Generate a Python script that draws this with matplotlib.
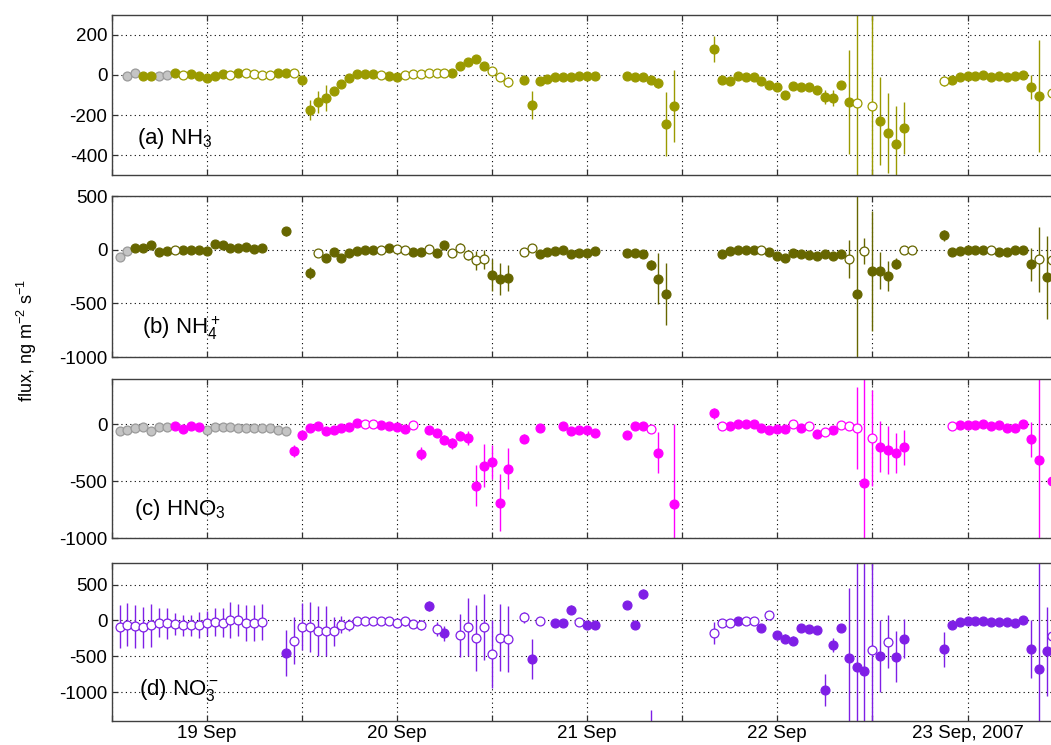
import matplotlib
matplotlib.use('Agg')
import matplotlib.pyplot as plt
import matplotlib.dates as mdates
import matplotlib.ticker as mticker
from datetime import datetime, timedelta

plt.rcParams['font.family'] = ['Liberation Sans', 'DejaVu Sans']
plt.rcParams['mathtext.default'] = 'regular'
plt.rcParams['axes.unicode_minus'] = False

# ---------------- data (hours relative to 19 Sep 2007 00:00) ----------------
# kind: f = filled, o = open, g = grey
hours_a = [-10, -9, -8, -7, -6, -5, -4, -3, -2, -1,
           0, 1, 2, 3, 4, 5, 6, 7, 8, 9, 10, 11, 12, 13, 14, 15, 16, 17, 18, 19,
           20, 21, 22, 23, 24, 25, 26, 27, 28, 29, 30, 31, 32, 33, 34, 35, 36, 37, 38,
           40, 41, 42, 43, 44, 45, 46, 47, 48, 49,
           53, 54, 55, 56, 57, 58, 59,
           64, 65, 66, 67, 68, 69, 70, 71, 72, 73, 74, 75, 76, 77, 78, 79, 80, 81, 82, 84, 85, 86, 87, 88,
           93, 94, 95, 96, 97, 98, 99, 100, 101, 102, 103, 104, 105, 106.7]
flux_a = [-5, 8, -5, -5, -5, 0, 8, 0, 3, -5,
          -15, -5, 5, 0, 10, 10, 3, 0, 0, 12, 10, 12, -27, -175, -133, -115, -78, -44, -17, 7,
          7, 7, 0, -5, -10, 0, 3, 7, 10, 10, 10, 10, 46, 66, 78, 43, 20, -10, -36,
          -26, -150, -32, -22, -10, -10, -8, -5, -5, -5,
          -5, -10, -10, -27, -41, -247, -153,
          131, -24, -31, -5, -10, -10, -31, -51, -61, -99, -54, -61, -61, -75, -110, -116, -48, -136, -140, -153, -231, -289, -345, -265,
          -31, -24, -10, -5, -5, 0, -10, -5, -10, -5, 0, -61, -105, -90]
err_a = [8, 8, 8, 8, 8, 8, 8, 8, 8, 8,
         8, 8, 8, 8, 8, 8, 8, 8, 8, 8, 8, 8, 10, 50, 55, 65, 20, 15, 8, 8,
         8, 8, 8, 8, 8, 8, 8, 8, 8, 8, 8, 8, 8, 8, 8, 8, 10, 15, 25,
         8, 70, 8, 8, 8, 8, 8, 8, 8, 8,
         8, 8, 8, 15, 25, 160, 180,
         65, 8, 8, 8, 8, 8, 8, 8, 8, 20, 8, 8, 8, 20, 35, 40, 8, 260, 700, 700, 220, 200, 190, 130,
         25, 8, 8, 8, 8, 8, 8, 8, 8, 8, 8, 60, 280, 40]
kind_a = ("ggffggfoff" + "fffofooooffoffffffff" + "ffoffoooooofffffooo" + "ffffffffff"
          + "fffffff" + "ffffffffffffffffffo" + "offff" + "o" + "f" * 12 + "o")

hours_b = [-11, -10, -9, -8, -7, -6, -5, -4, -3, -2, -1,
           0, 1, 2, 3, 4, 5, 6, 7, 10,
           13, 14, 15, 16, 17, 18, 19, 20, 21, 22, 23, 24, 25, 26, 27, 28, 29, 30, 31, 32, 33, 34, 35, 36, 37, 38,
           40, 41, 42, 43, 44, 45, 46, 47, 48, 49,
           53, 54, 55, 56, 57, 58,
           65, 66, 67, 68, 69, 70, 71, 72, 73, 74, 75, 76, 77, 78, 79, 80, 81, 82, 83, 84, 85, 86, 87, 88, 89,
           93, 94, 95, 96, 97, 98, 99, 100, 101, 102, 103, 104, 105, 106, 106.7]
flux_b = [-66, -13, 16, 16, 47, -19, -9, 0, 0, 0, 0,
          -9, 54, 47, 22, 16, 28, 9, 22, 174,
          -215, -25, -79, -22, -73, -28, -9, 3, -3, 0, 16, 9, 3, -22, -22, 9, -25, 47, -25, 22, -47, -98, -89, -237, -269, -262,
          -20, 16, -35, -22, -9, -3, -41, -28, -28, -9,
          -28, -28, -41, -142, -269, -415,
          -41, -9, 3, 3, 3, 3, -16, -57, -79, -28, -35, -47, -60, -35, -60, -41, -85, -408, -9, -193, -193, -244, -130, -3, -3,
          136, -22, -9, 0, 0, 3, 3, -22, -16, -3, 3, -136, -89, -256, -98]
err_b = [15] * 11 + [15] * 8 + [40] + \
        [60, 15, 30, 15, 20] + [15] * 14 + [40, 50, 90, 90, 150, 150, 120] + \
        [15] * 10 + \
        [15, 15, 15, 50, 240, 290] + \
        [15] * 16 + [180, 950, 125, 560, 170, 140, 50, 15, 15] + \
        [50] + [15] * 10 + [155, 300, 385, 200]
kind_b = ("gg" + "fffff" + "o" + "fff" + "fffffffff"
          + "fo" + "fffffff" + "o" + "f" + "oo" + "ff" + "o" + "ff" + "ooooo" + "fff"
          + "oo" + "f" * 8 + "ffffff"
          + "fffff" + "o" + "f" * 10 + "o" + "f" + "o" + "ffff" + "oo"
          + "ffffff" + "o" + "fffff" + "o" + "f" + "o")

hours_c = [-11, -10, -9, -8, -7, -6, -5, -4, -3, -2, -1,
           0, 1, 2, 3, 4, 5, 6, 7, 8, 9, 10, 11, 12, 13, 14, 15, 16, 17, 18, 19, 20, 21, 22, 23, 24, 25, 26,
           27, 28, 29, 30, 31, 32, 33, 34, 35, 36, 37, 38,
           40, 42, 45, 46, 47, 48, 49,
           53, 54, 55, 56, 57, 59,
           64, 65, 66, 67, 68, 69, 70, 71, 72, 73, 74, 75, 76, 77, 78, 79, 80, 81, 82, 83, 84, 85, 86, 87, 88,
           94, 95, 96, 97, 98, 99, 100, 101, 102, 103, 104, 105, 106.7]
flux_c = [-60, -48, -36, -24, -60, -24, -24, -18, -42, -12, -24,
          -48, -24, -24, -24, -30, -30, -36, -36, -36, -48, -60, -233, -90, -30, -12, -60, -48, -30, -24, 12, 0, 0, -9, -18, -24, -39, -9,
          -257, -54, -78, -137, -167, -101, -119, -537, -364, -334, -687, -388,
          -128, -36, -18, -60, -48, -54, -72,
          -90, -18, -18, -42, -248, -699,
          96, -18, -18, 6, 0, 0, -36, -54, -42, -42, 0, -36, -18, -84, -66, -54, -9, -18, -36, -517, -119, -197, -227, -251, -203,
          -18, -9, -6, -6, 6, -18, -6, -30, -30, 6, -131, -316, -495]
err_c = [15] * 11 + [15] * 11 + [50, 30] + [15] * 14 + \
        [60, 20, 30, 40, 50, 40, 60, 180, 190, 150, 250, 180] + \
        [40, 15, 15, 25, 15, 15, 15] + \
        [15, 15, 15, 15, 180, 705] + \
        [50] + [15] * 12 + [30, 30, 15, 15, 30, 360, 1000, 420, 225, 210, 175, 150] + \
        [15] * 10 + [155, 1000, 150]
kind_c = ("g" * 7 + "f" * 4
          + "g" * 11 + "f" * 9 + "oo" + "ffff" + "o" + "f" * 12
          + "f" * 7 + "fffoff"
          + "f" + "o" + "f" * 8 + "o" + "f" + "o" + "f" + "o" + "f" + "ooo" + "f" + "o" + "ffff"
          + "o" + "f" * 11 + "f")

hours_d = [-11, -10, -9, -8, -7, -6, -5, -4, -3, -2, -1,
           0, 1, 2, 3, 4, 5, 6, 7,
           10, 11, 12, 13, 14, 15, 16, 17, 18, 19, 20, 21, 22, 23, 24, 25, 26, 27, 28, 29, 30,
           32, 33, 34, 35, 36, 37, 38,
           40, 41, 42, 44, 45, 46, 47, 48, 49,
           53, 54, 55, 56,
           64, 65, 66, 67, 68, 69, 70, 71, 72, 73, 74, 75, 76, 77, 78, 79, 80, 81, 82, 83, 84, 85, 86, 87, 88,
           93, 94, 95, 96, 97, 98, 99, 100, 101, 102, 103, 104, 105, 106, 106.7]
flux_d = [-89, -60, -79, -98, -70, -33, -42, -51, -70, -70, -61,
          -42, -23, -33, 5, 5, -42, -33, -23,
          -452, -284, -89, -89, -144, -144, -154, -61, -61, -5, -5, -5, -14, -14, -42, -14, -51, -70, 196, -117, -182,
          -210, -89, -247, -89, -471, -238, -256,
          42, -536, -14, -33, -42, 149, -23, -61, -61,
          210, -61, 373, -1700,
          -177, -42, -42, -14, -14, -14, -107, 79, -210, -256, -284, -107, -117, -135, -969, -340, -107, -527, -643, -704, -419, -494, -294, -503, -256,
          -401, -61, -23, -14, -14, -14, -23, -23, -23, -37, 5, -401, -680, -433, -224]
err_d = [300, 300, 300, 280, 300, 200, 220, 150, 150, 150, 180,
         170, 200, 200, 250, 220, 250, 250, 250,
         320, 330, 330, 350, 350, 350, 200, 120, 80, 40, 30, 30, 30, 40, 50, 60, 60, 70, 70, 100, 100,
         300, 400, 460, 460, 470, 460, 460,
         80, 280, 50, 25, 25, 60, 25, 25, 25,
         50, 25, 70, 450,
         150, 25, 25, 25, 25, 25, 30, 50, 40, 60, 60, 25, 25, 30, 220, 100, 25, 980, 2000, 2000, 1500, 500, 373, 360, 270,
         244, 25, 25, 25, 25, 25, 25, 25, 25, 25, 25, 407, 2000, 617, 200]
kind_d = ("o" * 11 + "o" * 8
          + "f" + "o" * 17 + "f" + "o" + "f"
          + "o" * 7
          + "ofofffoff"
          + "ffff"
          + "ooo" + "f" + "oo" + "f" + "o" + "f" * 12 + "o" + "f" + "o" + "ff"
          + "f" * 14 + "o")

labels = ['(a) NH$_3$', '(b) NH$_4^+$', '(c) HNO$_3$', '(d) NO$_3^-$']
colors = ['#9a9a00', '#666600', '#ff00ff', '#7f1fe6']
grey_face, grey_edge = '#c4c4c4', '#9a9a9a'
ylims = [(-500, 300), (-1000, 500), (-1000, 400), (-1400, 800)]
yticks = [[-400, -200, 0, 200], [-1000, -500, 0, 500], [-1000, -500, 0], [-1000, -500, 0, 500]]
day_labels = ['19 Sep', '20 Sep', '21 Sep', '22 Sep', '23 Sep, 2007']

panels = [(hours_a, flux_a, err_a, kind_a), (hours_b, flux_b, err_b, kind_b),
          (hours_c, flux_c, err_c, kind_c), (hours_d, flux_d, err_d, kind_d)]

# ---------------- figure ----------------
W, H = 1051, 745
fig = plt.figure(figsize=(W / 100, H / 100), dpi=100)
ax_left = 111.6
ax_width = 1046.1
boxes = [(14.9, 175.1), (196.4, 357.0), (378.7, 538.3), (563.0, 720.9)]
label_pos = [(0.024, 0.195), (0.029, 0.145), (0.021, 0.148), (0.026, 0.165)]

start = datetime(2007, 9, 19)
xmin = datetime(2007, 9, 18, 12)
xmax = datetime(2007, 9, 24, 0)
tick_dates = [xmin + timedelta(hours=12 * i) for i in range(12)]
tick_text = []
di = 0
for d in tick_dates:
    if d.hour == 0 and d >= start and di < len(day_labels):
        tick_text.append(day_labels[di]); di += 1
    else:
        tick_text.append('')

for i, (hrs, vals, errs, kinds) in enumerate(panels):
    top, bot = boxes[i]
    ax = fig.add_axes([ax_left / W, 1 - bot / H, ax_width / W, (bot - top) / H])
    dates = [start + timedelta(hours=h) for h in hrs]
    col = colors[i]
    ax.errorbar(dates, vals, yerr=errs, fmt='none', ecolor=col, elinewidth=1.0,
                capsize=0, zorder=2)
    for k in 'gfo':
        xs = [d for d, kk in zip(dates, kinds) if kk == k]
        ys = [v for v, kk in zip(vals, kinds) if kk == k]
        if not xs:
            continue
        if k == 'g':
            fc, ec = grey_face, grey_edge
        elif k == 'f':
            fc, ec = col, col
        else:
            fc, ec = 'white', col
        ax.plot(xs, ys, 'o', ms=6.4, mfc=fc, mec=ec, mew=0.9, zorder=3, linestyle='none')
    ax.set_xlim(xmin, xmax)
    ax.set_ylim(*ylims[i])
    ax.set_yticks(yticks[i])
    ax.xaxis.set_major_locator(mticker.FixedLocator(mdates.date2num(tick_dates)))
    if i == 3:
        ax.set_xticklabels(tick_text)
    else:
        ax.set_xticklabels([''] * len(tick_dates))
    ax.grid(True, linestyle=(0, (1, 3)), color='black', linewidth=0.8)
    ax.tick_params(direction='in', length=4, width=0.9, top=True, right=True,
                   labelsize=13.5, colors='#303030', labelcolor='black', pad=3)
    for s in ax.spines.values():
        s.set_color('#404040'); s.set_linewidth(1.0)
    ax.text(label_pos[i][0], label_pos[i][1], labels[i], transform=ax.transAxes,
            fontsize=16, ha='left', va='baseline', zorder=5)

fig.text(27 / W, 1 - 340 / H, 'flux, ng m$^{-2}$ s$^{-1}$', rotation=90,
         ha='center', va='center', fontsize=13)

fig.savefig('out.png', dpi=100)
